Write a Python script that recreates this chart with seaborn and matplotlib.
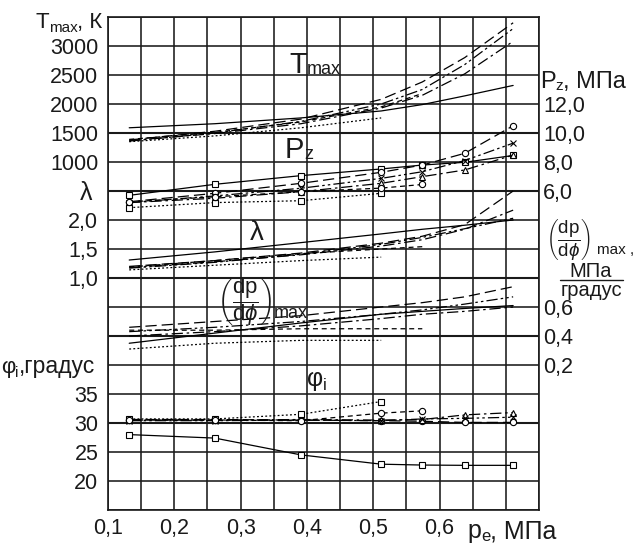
import numpy as np
import pandas as pd
import seaborn as sns
import matplotlib
matplotlib.use("Agg")
import matplotlib.pyplot as plt
from matplotlib.lines import Line2D

sns.set_theme(style="white")
plt.rcParams['font.family'] = ['Liberation Sans', 'DejaVu Sans']
plt.rcParams['mathtext.fontset'] = 'custom'
plt.rcParams['mathtext.rm'] = 'Liberation Sans'
plt.rcParams['mathtext.it'] = 'Liberation Sans:italic'
plt.rcParams['mathtext.bf'] = 'Liberation Sans:bold'
plt.rcParams['mathtext.sf'] = 'Liberation Sans'

# ---------------- data ----------------
pe = [0.132, 0.261, 0.391, 0.512, 0.574, 0.638, 0.711]   # p_e, MPa
series = ["A", "B", "C", "D", "E", "F"]

t_max = {
    "A": [1590, 1660, 1760, 1880, 1990, 2140, 2320],
    "B": [1380, 1530, 1740, 2080, 2380, 2800, 3400],
    "C": [1370, 1490, 1660, 1930, 2150, 2520, 3080],
    "D": [1360, 1500, 1700, 2000, 2250, 2680, 3300],
    "E": [1350, 1450, 1590, 1760],
    "F": [1390, 1510, 1690, 1950, 2180],
}
p_z = {
    "A": [5.70, 6.46, 7.06, 7.52, 7.79, 7.98, 8.45],
    "B": [5.26, 5.84, 6.53, 7.29, 7.79, 8.60, 10.5],
    "C": [5.20, 5.50, 5.95, 6.53, 6.99, 7.45, 8.48],
    "D": [5.20, 5.66, 6.19, 6.87, 7.33, 8.10, 9.30],
    "E": [4.85, 5.20, 5.33, 5.84],
    "F": [5.25, 5.60, 5.95, 6.20, 6.45],
}
lam = {
    "A": [1.31, 1.45, 1.61, 1.76, 1.84, 1.91, 2.00],
    "B": [1.20, 1.30, 1.43, 1.60, 1.72, 1.92, 2.50],
    "C": [1.18, 1.28, 1.40, 1.55, 1.66, 1.84, 2.17],
    "D": [1.17, 1.27, 1.41, 1.58, 1.70, 1.85, 2.03],
    "E": [1.14, 1.22, 1.30, 1.36],
    "F": [1.19, 1.30, 1.42, 1.50, 1.54],
}
dpdphi = {
    "A": [0.35, 0.42, 0.49, 0.55, 0.57, 0.59, 0.61],
    "B": [0.46, 0.50, 0.54, 0.60, 0.63, 0.67, 0.74],
    "C": [0.40, 0.43, 0.47, 0.52, 0.55, 0.57, 0.60],
    "D": [0.43, 0.46, 0.50, 0.55, 0.58, 0.62, 0.67],
    "E": [0.31, 0.35, 0.37, 0.37],
    "F": [0.44, 0.44, 0.45, 0.45, 0.45],
}
phi_i = {
    "A": [28.0, 27.4, 24.5, 22.9, 22.75, 22.7, 22.7],
    "B": [30.6, 30.6, 30.5, 30.4, 30.3, 30.1, 30.1],
    "C": [30.5, 30.5, 30.6, 30.5, 30.6, 31.4, 31.8],
    "D": [30.4, 30.4, 30.5, 30.4, 30.7, 30.8, 31.0],
    "E": [30.7, 30.7, 31.5, 33.7],
    "F": [30.5, 30.5, 30.4, 31.7, 32.1],
}

t_ticks = [1000, 1500, 2000, 2500, 3000]
pz_ticks = [6.0, 8.0, 10.0, 12.0]
lam_ticks = [1.0, 1.5, 2.0]
dp_ticks = [0.2, 0.4, 0.6]
phi_ticks = [20, 25, 30, 35]
x_ticks = [0.1, 0.2, 0.3, 0.4, 0.5, 0.6]

# ---------------- styles ----------------
linestyles = {
    "A": "-",
    "B": (0, (9, 4)),
    "C": (0, (9, 3, 2, 3)),
    "D": (0, (9, 2.5, 2, 2.5, 2, 2.5)),
    "E": (0, (1.5, 1.8)),
    "F": (0, (4, 3)),
}
markers = {"A": "s", "B": "o", "C": "^", "D": "x", "E": "s", "F": "o"}
INK = "#1a1a1a"

def fmt(v, nd):
    return f"{v:.{nd}f}".replace(".", ",")

W, H = 638, 544
fig = plt.figure(figsize=(W / 100, H / 100), dpi=100)
ax = fig.add_axes([108 / W, 34 / H, 431 / W, 493 / H])

# main axis (T_max) with the full grid
ax.set_xlim(0.1, 0.75)
ax.set_ylim(-5000, 3500)
grid_y = np.arange(-5000, 3501, 500)
ax.set_yticks(grid_y)
ax.set_yticklabels([str(int(v)) if v in t_ticks else "" for v in grid_y])
grid_x = np.round(np.arange(0.1, 0.7501, 0.05), 2)
ax.set_xticks(grid_x)
ax.set_xticklabels([fmt(v, 1) if any(abs(v - t) < 1e-9 for t in x_ticks) else "" for v in grid_x])
ax.grid(True, color=INK, lw=1.15)
ax.tick_params(length=0, labelsize=15.5, colors=INK)
ax.tick_params(axis="y", pad=7)
ax.tick_params(axis="x", pad=6)
for s in ax.spines.values():
    s.set_color(INK)
    s.set_linewidth(1.2)
ax.set_xlabel("")
ax.set_ylabel("")

def twin(ylim, ticks, nd, side):
    a = ax.twinx()
    a.set_ylim(*ylim)
    a.set_yticks(ticks)
    a.set_yticklabels([fmt(v, nd) for v in ticks])
    a.grid(False)
    if side == "left":
        a.yaxis.tick_left()
        a.tick_params(axis="y", pad=7)
    else:
        a.yaxis.tick_right()
        a.tick_params(axis="y", pad=3)
    a.tick_params(length=0, labelsize=15.5, colors=INK)
    for s in a.spines.values():
        s.set_visible(False)
    a.set_ylabel("")
    return a

ax_pz = twin((-16, 18), pz_ticks, 1, "right")
ax_lam = twin((-3, 5.5), lam_ticks, 1, "left")
ax_dp = twin((-0.8, 2.6), dp_ticks, 1, "right")
ax_phi = twin((15, 100), phi_ticks, 0, "left")

# slightly heavier reference lines
for a, v in [(ax, 1500), (ax_pz, 6.0), (ax_lam, 1.0), (ax_dp, 0.4), (ax_phi, 30)]:
    a.axhline(v, color=INK, lw=1.5, zorder=1)

def draw(a, data, with_markers):
    for k in series:
        vals = data[k]
        df = pd.DataFrame({"pe": pe[:len(vals)], "v": vals})
        kw = dict(color="black", lw=0.9, linestyle=linestyles[k])
        if with_markers:
            kw.update(marker=markers[k], markersize=4.5, markerfacecolor="white",
                      markeredgecolor="black", markeredgewidth=0.8)
        sns.lineplot(data=df, x="pe", y="v", ax=a, errorbar=None, sort=False, **kw)
    a.set_xlabel("")
    a.set_ylabel("")

draw(ax, t_max, False)
draw(ax_pz, p_z, True)
draw(ax_lam, lam, False)
draw(ax_dp, dpdphi, False)
draw(ax_phi, phi_i, True)
ax.set_xlim(0.1, 0.75)

renderer = fig.canvas.get_renderer()

def ftext(x, y, s, **kw):
    kw.setdefault("color", INK)
    return fig.text(x / W, 1 - y / H, s, **kw)

def chain(x, baseline, parts):
    """parts: (text, fontsize, baseline shift in px, extra gap px)"""
    for s, size, dy, gap in parts:
        t = ftext(x, baseline + dy, s, fontsize=size, ha="left", va="baseline")
        x += t.get_window_extent(renderer).width + gap

# axis titles, left
chain(35, 28, [("T", 16, 0, 0), ("max", 11, 4, 0), (", К", 16, 0, 0)])
ftext(92, 193, "λ", fontsize=18, ha="right", va="center")
chain(1, 373, [("φ", 16, 0, 0), ("i", 11, 4, 0), (",градус", 16.5, 0, 0)])
# axis titles, right
chain(540, 88, [("P", 17, 0, 0), ("z", 11, 2, 0), (", МПа", 17, 0, 0)])
ftext(546, 240, r"$\left(\dfrac{\mathrm{dp}}{\mathrm{d}\phi}\right)$", fontsize=13.5,
      ha="left", va="center")
ftext(597, 254, "max ,", fontsize=11, ha="left", va="baseline")
ftext(591, 277, "МПа", fontsize=14.5, ha="center", va="baseline")
ftext(591, 296, "градус", fontsize=14.5, ha="center", va="baseline")
fig.add_artist(Line2D([560 / W, 623 / W], [1 - 280 / H, 1 - 280 / H],
                      color=INK, lw=1.0))
# x label
chain(467, 538, [("p", 18, 0, 0), ("e", 12, 3, 0), (", МПа", 18, 0, 0)])

# in-plot labels
chain(289, 73, [("T", 21, 0, 0), ("max", 13, 1, 0)])
chain(285, 158, [("P", 21, 0, 0), ("z", 13, 1, 0)])
ftext(257, 233, "λ", fontsize=20, ha="center", va="center")
ftext(217, 302, r"$\left(\dfrac{\mathrm{dp}}{\mathrm{d}\phi}\right)$", fontsize=16,
      ha="left", va="center")
ftext(274, 318, "max", fontsize=13, ha="left", va="baseline")
chain(307, 386, [("φ", 18, 0, 0), ("i", 12, 4, 0)])

fig.savefig("out.png", dpi=100)
